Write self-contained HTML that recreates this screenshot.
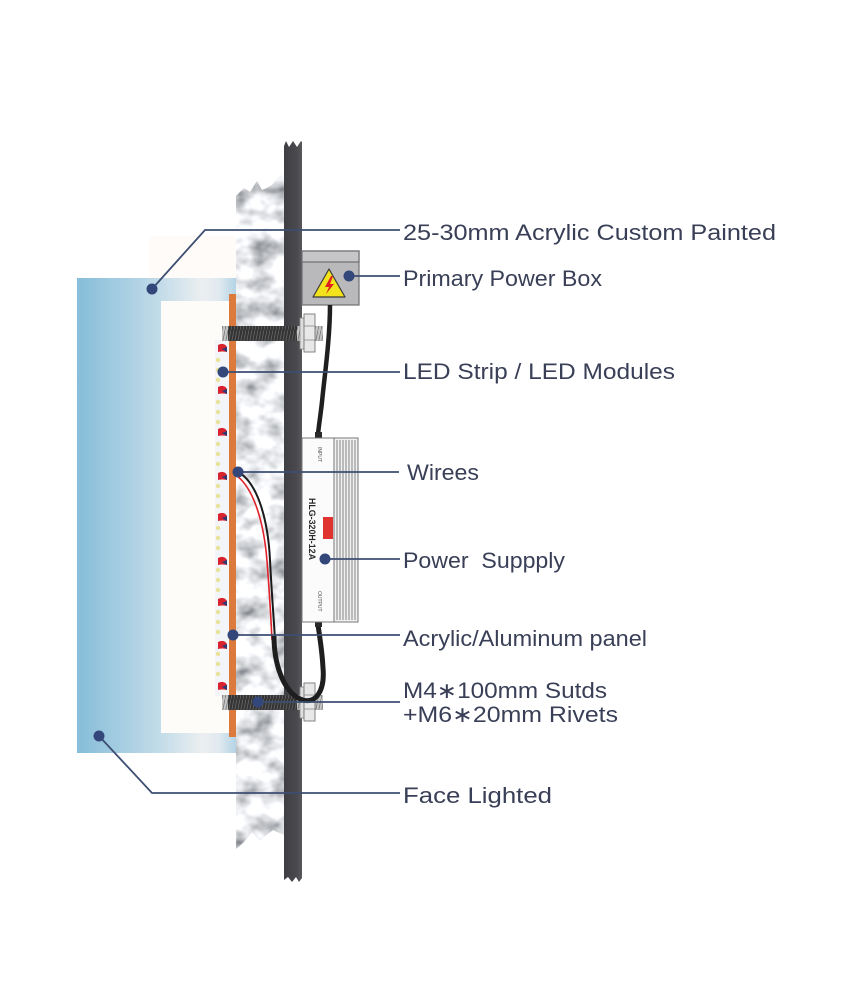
<!DOCTYPE html>
<html><head><meta charset="utf-8"><style>
html,body{margin:0;padding:0;background:#fff;}
svg{display:block;}
</style></head><body>
<svg width="863" height="983" viewBox="0 0 863 983" xmlns="http://www.w3.org/2000/svg">
<defs>
  <linearGradient id="gLeft" x1="0" y1="0" x2="1" y2="0">
    <stop offset="0" stop-color="#86bdd9"/>
    <stop offset="1" stop-color="#c3dce9"/>
  </linearGradient>
  <linearGradient id="gBand" x1="0" y1="0" x2="1" y2="0">
    <stop offset="0" stop-color="#c3dce9"/>
    <stop offset="0.55" stop-color="#eceff1"/>
    <stop offset="0.78" stop-color="#dfe9ef"/>
    <stop offset="1" stop-color="#b3d3e6"/>
  </linearGradient>
  <linearGradient id="gWall" x1="0" y1="0" x2="1" y2="0">
    <stop offset="0" stop-color="#3f3f43"/>
    <stop offset="0.7" stop-color="#4a4a4e"/>
    <stop offset="1" stop-color="#58585c"/>
  </linearGradient>
  <clipPath id="cConc">
    <path d="M236,196 L244,188 L250,192 L257,181 L262,190 L267,188 L272,185 L278,178 L284,174 L284,835 L273,830 L260,840 L252,832 L244,842 L236,849 Z"/>
  </clipPath>
  <filter id="fNoise" filterUnits="userSpaceOnUse" x="230" y="170" width="60" height="690">
    <feTurbulence type="fractalNoise" baseFrequency="0.04 0.05" numOctaves="3" seed="11" result="n"/>
    <feColorMatrix in="n" type="matrix" values="1.7 0 0 0 -0.04  1.7 0 0 0 -0.025  1.7 0 0 0 0.0  0 0 0 0 1"/>
  </filter>
  <pattern id="thrDark" width="3" height="15" patternUnits="userSpaceOnUse">
    <rect width="3" height="15" fill="#343434"/>
    <line x1="0" y1="15" x2="3" y2="0" stroke="#666" stroke-width="0.8"/>
  </pattern>
  <pattern id="thrLight" width="3" height="15" patternUnits="userSpaceOnUse">
    <rect width="3" height="15" fill="#c4c4c4"/>
    <line x1="0" y1="15" x2="3" y2="0" stroke="#777" stroke-width="0.8"/>
  </pattern>
</defs>

<!-- faint cream backdrop -->
<rect x="150" y="236" width="86" height="510" fill="#fefbf8"/>

<!-- Acrylic face -->
<rect x="77" y="278" width="84" height="475" fill="url(#gLeft)"/>
<rect x="161" y="278" width="75" height="23" fill="url(#gBand)"/>
<rect x="161" y="733" width="75" height="20" fill="url(#gBand)"/>
<rect x="161" y="301" width="68" height="432" fill="#fefcf8"/>

<!-- Concrete -->
<g clip-path="url(#cConc)">
  <rect x="230" y="170" width="60" height="690" fill="#d0d4d8"/>
  <rect x="230" y="170" width="60" height="690" filter="url(#fNoise)"/>
</g>

<!-- Wall dark bar -->
<path d="M284,146 L286,141 L289,147 L293,141 L297,147 L301,141 L302,142 L302,878 L299,882 L296,877 L292,882 L288,877 L284,880 Z" fill="url(#gWall)"/>

<!-- Orange panel -->
<rect x="229" y="294" width="7" height="443" fill="#dc7a3d"/>

<!-- LED strip -->
<rect x="215" y="340" width="14" height="356" fill="#f3f5f8"/>
<g fill="#e9e39a">
  <circle cx="218" cy="360" r="2.2"/><circle cx="218" cy="370" r="2.2"/><circle cx="218" cy="380" r="2.2"/>
  <circle cx="218" cy="402" r="2.2"/><circle cx="218" cy="412" r="2.2"/><circle cx="218" cy="422" r="2.2"/>
  <circle cx="218" cy="444" r="2.2"/><circle cx="218" cy="454" r="2.2"/><circle cx="218" cy="464" r="2.2"/>
  <circle cx="218" cy="486" r="2.2"/><circle cx="218" cy="496" r="2.2"/><circle cx="218" cy="506" r="2.2"/>
  <circle cx="218" cy="528" r="2.2"/><circle cx="218" cy="538" r="2.2"/><circle cx="218" cy="548" r="2.2"/>
  <circle cx="218" cy="570" r="2.2"/><circle cx="218" cy="580" r="2.2"/><circle cx="218" cy="590" r="2.2"/>
  <circle cx="218" cy="612" r="2.2"/><circle cx="218" cy="622" r="2.2"/><circle cx="218" cy="632" r="2.2"/>
  <circle cx="218" cy="654" r="2.2"/><circle cx="218" cy="664" r="2.2"/><circle cx="218" cy="674" r="2.2"/>
</g>
<g>
  <g transform="translate(0,348)"><path d="M218,-3 Q224,-6 227,-1 L227,4 Q222,3 218,4 Z" fill="#d8232e"/><path d="M222,1 L227,-1 L227,4 Z" fill="#2c3a78"/></g>
  <g transform="translate(0,390)"><path d="M218,-3 Q224,-6 227,-1 L227,4 Q222,3 218,4 Z" fill="#d8232e"/><path d="M222,1 L227,-1 L227,4 Z" fill="#2c3a78"/></g>
  <g transform="translate(0,432)"><path d="M218,-3 Q224,-6 227,-1 L227,4 Q222,3 218,4 Z" fill="#d8232e"/><path d="M222,1 L227,-1 L227,4 Z" fill="#2c3a78"/></g>
  <g transform="translate(0,476)"><path d="M218,-3 Q224,-6 227,-1 L227,4 Q222,3 218,4 Z" fill="#d8232e"/><path d="M222,1 L227,-1 L227,4 Z" fill="#2c3a78"/></g>
  <g transform="translate(0,517)"><path d="M218,-3 Q224,-6 227,-1 L227,4 Q222,3 218,4 Z" fill="#d8232e"/><path d="M222,1 L227,-1 L227,4 Z" fill="#2c3a78"/></g>
  <g transform="translate(0,561)"><path d="M218,-3 Q224,-6 227,-1 L227,4 Q222,3 218,4 Z" fill="#d8232e"/><path d="M222,1 L227,-1 L227,4 Z" fill="#2c3a78"/></g>
  <g transform="translate(0,602)"><path d="M218,-3 Q224,-6 227,-1 L227,4 Q222,3 218,4 Z" fill="#d8232e"/><path d="M222,1 L227,-1 L227,4 Z" fill="#2c3a78"/></g>
  <g transform="translate(0,645)"><path d="M218,-3 Q224,-6 227,-1 L227,4 Q222,3 218,4 Z" fill="#d8232e"/><path d="M222,1 L227,-1 L227,4 Z" fill="#2c3a78"/></g>
  <g transform="translate(0,686)"><path d="M218,-3 Q224,-6 227,-1 L227,4 Q222,3 218,4 Z" fill="#d8232e"/><path d="M222,1 L227,-1 L227,4 Z" fill="#2c3a78"/></g>
</g>

<!-- Studs -->
<g>
  <rect x="222" y="326" width="6" height="15" fill="url(#thrLight)"/>
  <rect x="228" y="326" width="69" height="15" fill="url(#thrDark)"/>
  <rect x="297" y="326" width="26" height="15" fill="url(#thrLight)"/>
  <rect x="300" y="318" width="4" height="31" fill="#dedede" stroke="#888" stroke-width="0.8"/>
  <rect x="304" y="314" width="11" height="38" fill="#e8e8e8" stroke="#777" stroke-width="0.9"/>
  <line x1="304" y1="326" x2="315" y2="326" stroke="#888" stroke-width="0.8"/>
  <line x1="304" y1="340" x2="315" y2="340" stroke="#888" stroke-width="0.8"/>
</g>
<g transform="translate(0,369)">
  <rect x="222" y="326" width="6" height="15" fill="url(#thrLight)"/>
  <rect x="228" y="326" width="69" height="15" fill="url(#thrDark)"/>
  <rect x="297" y="326" width="26" height="15" fill="url(#thrLight)"/>
  <rect x="300" y="318" width="4" height="31" fill="#dedede" stroke="#888" stroke-width="0.8"/>
  <rect x="304" y="314" width="11" height="38" fill="#e8e8e8" stroke="#777" stroke-width="0.9"/>
  <line x1="304" y1="326" x2="315" y2="326" stroke="#888" stroke-width="0.8"/>
  <line x1="304" y1="340" x2="315" y2="340" stroke="#888" stroke-width="0.8"/>
</g>

<!-- Power box -->
<rect x="302" y="251" width="57" height="54" fill="#b9b9bb" stroke="#6f6f72" stroke-width="1.2"/>
<rect x="302" y="251" width="57" height="11" fill="#c6c6c8" stroke="#6f6f72" stroke-width="1.2"/>
<path d="M329,269 L345,297 L313,297 Z" fill="#f3e31c" stroke="#3a3a3a" stroke-width="1.2" stroke-linejoin="round"/>
<path d="M331,276 L325,287 L329,287 L326,294 L334,284 L330,284 L333,276 Z" fill="#e02020"/>

<!-- cable from power box to PSU -->
<path d="M330,305 C330,340 324,380 322,402 C320,420 318,430 318,436" fill="none" stroke="#1f1f1f" stroke-width="4.5"/>

<!-- wires from LED -->
<path d="M240,473 C258,485 268,520 270,560 S274,620 275,640" fill="none" stroke="#1a1a1a" stroke-width="2"/>
<path d="M237,476 C254,489 264,523 267,561 S271,620 272,640" fill="none" stroke="#e0222a" stroke-width="1.6"/>

<!-- cable loop under PSU -->
<path d="M274,636 C274,662 282,690 300,699 C316,706 325,690 323,668 C322,648 319,634 318,624" fill="none" stroke="#1e1e1e" stroke-width="5"/>

<!-- Power supply -->
<rect x="315" y="432" width="7" height="7" fill="#2a2a2a"/>
<rect x="315" y="621" width="7" height="6" fill="#2a2a2a"/>
<rect x="302" y="438" width="56" height="184" fill="#fbfbfb" stroke="#777" stroke-width="1"/>
<rect x="334" y="438" width="24" height="184" fill="#f1f1f1" stroke="#777" stroke-width="1"/>
<g stroke="#6a6a6a" stroke-width="0.8">
  <line x1="337" y1="440" x2="337" y2="620"/>
  <line x1="340" y1="440" x2="340" y2="620"/>
  <line x1="343" y1="440" x2="343" y2="620"/>
  <line x1="346" y1="440" x2="346" y2="620"/>
  <line x1="349" y1="440" x2="349" y2="620"/>
  <line x1="352" y1="440" x2="352" y2="620"/>
  <line x1="355" y1="440" x2="355" y2="620"/>
</g>
<text x="0" y="0" transform="translate(318,447) rotate(90)" font-family="Liberation Sans, sans-serif" font-size="5" fill="#555">INPUT</text>
<text x="0" y="0" transform="translate(318,591) rotate(90)" font-family="Liberation Sans, sans-serif" font-size="5" fill="#555">OUTPUT</text>
<rect x="323" y="517" width="10" height="22" fill="#e0322e"/>
<text x="0" y="0" transform="translate(309,498) rotate(90)" font-family="Liberation Sans, sans-serif" font-weight="bold" font-size="9" fill="#2a2a2a" textLength="62" lengthAdjust="spacingAndGlyphs">HLG-320H-12A</text>

<!-- Callout lines -->
<g fill="none" stroke="#3d4e72" stroke-width="1.8">
  <polyline points="152,289 205,230 400,230"/>
  <line x1="349" y1="276" x2="400" y2="276"/>
  <line x1="223" y1="372" x2="400" y2="372"/>
  <line x1="238" y1="472" x2="399" y2="472"/>
  <line x1="325" y1="559" x2="400" y2="559"/>
  <line x1="233" y1="635" x2="400" y2="635"/>
  <line x1="258" y1="702" x2="400" y2="702"/>
  <polyline points="99,736 152,793 400,793"/>
</g>
<g fill="#33477a">
  <circle cx="152" cy="289" r="5.5"/>
  <circle cx="349" cy="276" r="5.5"/>
  <circle cx="223" cy="372" r="5.5"/>
  <circle cx="238" cy="472" r="5.5"/>
  <circle cx="325" cy="559" r="5.5"/>
  <circle cx="233" cy="635" r="5.5"/>
  <circle cx="258" cy="702" r="5.5"/>
  <circle cx="99" cy="736" r="5.5"/>
</g>

<!-- Labels -->
<g font-family="Liberation Sans, DejaVu Sans, sans-serif" font-size="22" fill="#393f56">
  <text x="403" y="240" textLength="373" lengthAdjust="spacingAndGlyphs">25-30mm Acrylic Custom Painted</text>
  <text x="403" y="286" textLength="199" lengthAdjust="spacingAndGlyphs">Primary Power Box</text>
  <text x="403" y="379" textLength="272" lengthAdjust="spacingAndGlyphs">LED Strip / LED Modules</text>
  <text x="407" y="480" textLength="72" lengthAdjust="spacingAndGlyphs">Wirees</text>
  <text x="403" y="568" textLength="162" lengthAdjust="spacingAndGlyphs" xml:space="preserve">Power  Suppply</text>
  <text x="403" y="646" textLength="244" lengthAdjust="spacingAndGlyphs">Acrylic/Aluminum panel</text>
  <text x="403" y="698" textLength="204" lengthAdjust="spacingAndGlyphs">M4∗100mm Sutds</text>
  <text x="403" y="722" textLength="215" lengthAdjust="spacingAndGlyphs">+M6∗20mm Rivets</text>
  <text x="403" y="803" textLength="149" lengthAdjust="spacingAndGlyphs">Face Lighted</text>
</g>
</svg>
</body></html>
